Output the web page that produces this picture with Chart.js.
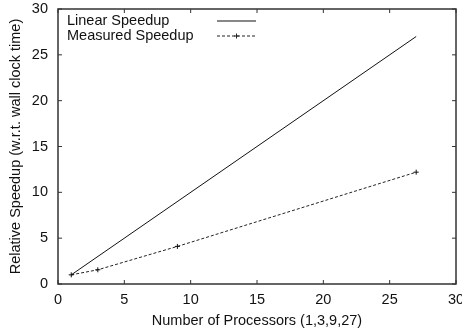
<!DOCTYPE html>
<html>
<head>
<meta charset="utf-8">
<script src="https://cdn.jsdelivr.net/npm/chart.js@4"></script>
<style>
  html, body { margin: 0; padding: 0; background: #fff; }
  #wrap { width: 462px; height: 333px; }
</style>
</head>
<body>
<div id="wrap"><canvas id="chart1" width="462" height="333"></canvas></div>
<script>
var processors = [1, 3, 9, 27];
var linearSpeedup = [1, 3, 9, 27];
var measuredSpeedup = [1.0, 1.55, 4.1, 12.2];
var tickValues = [0, 5, 10, 15, 20, 25, 30];
var seriesNames = ["Linear Speedup", "Measured Speedup"];

var FONT = "'Liberation Sans', Arial, Helvetica, sans-serif";
var FSIZE = 14.5;

function toPoints(xs, ys) {
  var pts = [];
  for (var i = 0; i < xs.length; i++) pts.push({ x: xs[i], y: ys[i] });
  return pts;
}

// gnuplot style frame: box with inward ticks on all four sides
var framePlugin = {
  id: "frame",
  afterDraw: function (chart) {
    var ctx = chart.ctx;
    var a = chart.chartArea;
    var xs = chart.scales.x, ys = chart.scales.y;
    var len = 4;
    ctx.save();
    ctx.strokeStyle = "#333";
    ctx.lineWidth = 1.5;
    ctx.strokeRect(a.left, a.top, a.right - a.left, a.bottom - a.top);
    ctx.lineWidth = 1;
    ctx.beginPath();
    tickValues.forEach(function (v) {
      var px = xs.getPixelForValue(v);
      ctx.moveTo(px, a.bottom); ctx.lineTo(px, a.bottom - len);
      ctx.moveTo(px, a.top); ctx.lineTo(px, a.top + len);
      var py = ys.getPixelForValue(v);
      ctx.moveTo(a.left, py); ctx.lineTo(a.left + len, py);
      ctx.moveTo(a.right, py); ctx.lineTo(a.right - len, py);
    });
    ctx.stroke();

    // legend, drawn inside the plot like gnuplot does
    ctx.font = FSIZE + "px " + FONT;
    ctx.fillStyle = "#111";
    ctx.textBaseline = "middle";
    ctx.textAlign = "left";
    var rows = [21, 36];
    chart.data.datasets.forEach(function (ds, i) {
      var y = rows[i];
      ctx.fillText(ds.label, 67, y);
      ctx.strokeStyle = ds.borderColor;
      ctx.lineWidth = 1;
      ctx.setLineDash(ds.borderDash || []);
      ctx.beginPath();
      ctx.moveTo(217, y); ctx.lineTo(256, y);
      ctx.stroke();
      ctx.setLineDash([]);
      if (ds.pointRadius > 0) {
        ctx.beginPath();
        ctx.moveTo(236.5 - 2.5, y); ctx.lineTo(236.5 + 2.5, y);
        ctx.moveTo(236.5, y - 2.5); ctx.lineTo(236.5, y + 2.5);
        ctx.stroke();
      }
    });
    ctx.restore();
  }
};

var ctx = document.getElementById("chart1").getContext("2d");
var myChart = new Chart(ctx, {
  type: "line",
  data: {
    datasets: [
      {
        label: seriesNames[0],
        data: toPoints([processors[0], processors[3]], [linearSpeedup[0], linearSpeedup[3]]),
        borderColor: "#111",
        borderWidth: 1,
        pointRadius: 0,
        fill: false,
      },
      {
        label: seriesNames[1],
        data: toPoints(processors, measuredSpeedup),
        borderColor: "#222",
        borderWidth: 1,
        borderDash: [3, 2],
        pointStyle: "cross",
        pointRadius: 2.5,
        pointBorderWidth: 1,
        pointBorderColor: "#111",
        fill: false,
      },
    ],
  },
  options: {
    responsive: false,
    animation: false,
    layout: { padding: { top: 9, right: 6, left: 0, bottom: 0 } },
    plugins: { legend: { display: false }, tooltip: { enabled: false } },
    scales: {
      x: {
        type: "linear",
        min: 0,
        max: 30,
        border: { display: false },
        grid: { display: false, drawTicks: false },
        afterBuildTicks: function (scale) {
          scale.ticks = tickValues.map(function (v) { return { value: v }; });
        },
        afterFit: function (scale) {
          scale.height = 49;
          scale.paddingRight = 0;
          scale.paddingLeft = 0;
        },
        ticks: {
          padding: 7,
          maxRotation: 0,
          color: "#111",
          font: { family: FONT, size: FSIZE },
        },
        title: {
          display: true,
          text: "Number of Processors (1,3,9,27)",
          color: "#111",
          font: { family: FONT, size: FSIZE },
          padding: { top: 0, bottom: 3 },
        },
      },
      y: {
        type: "linear",
        min: 0,
        max: 30,
        border: { display: false },
        grid: { display: false, drawTicks: false },
        afterBuildTicks: function (scale) {
          scale.ticks = tickValues.map(function (v) { return { value: v }; });
        },
        afterFit: function (scale) {
          scale.width = 58;
          scale.paddingTop = 0;
          scale.paddingBottom = 0;
        },
        ticks: {
          padding: 10,
          color: "#111",
          font: { family: FONT, size: FSIZE },
        },
        title: {
          display: true,
          text: "Relative Speedup (w.r.t. wall clock time)",
          color: "#111",
          font: { family: FONT, size: FSIZE },
          padding: { top: 7, bottom: 0 },
        },
      },
    },
  },
  plugins: [framePlugin],
});
</script>
</body>
</html>
